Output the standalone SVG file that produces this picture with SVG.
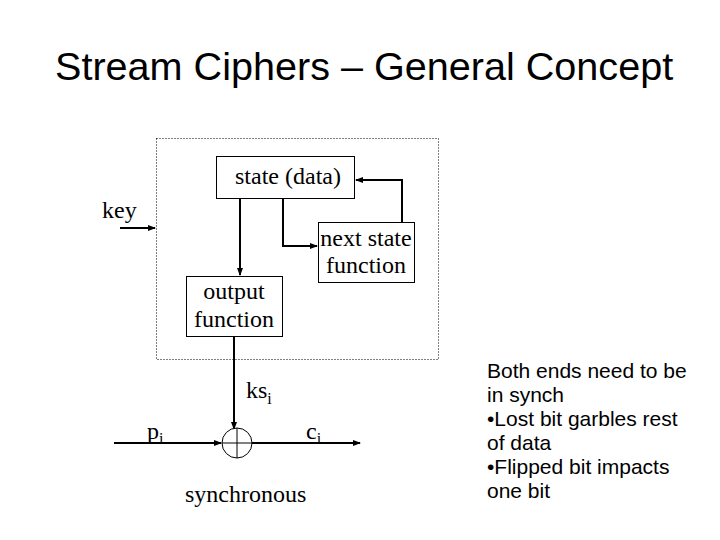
<svg xmlns="http://www.w3.org/2000/svg" width="720" height="540" viewBox="0 0 720 540">
<defs>
<marker id="ah" markerWidth="8" markerHeight="6" refX="7" refY="3" orient="auto" markerUnits="userSpaceOnUse">
<path d="M0,0 L8,3 L0,6 z" fill="#000"/>
</marker>
<style>
.serif{font-family:"Liberation Serif","Times New Roman",serif;fill:#000}
.sans{font-family:"Liberation Sans",Arial,sans-serif;fill:#000}
.box{fill:#fff;stroke:#000;stroke-width:1}
.ln{fill:none;stroke:#000;stroke-width:2}
</style>
</defs>
<rect width="720" height="540" fill="#fff"/>
<text class="sans" x="55" y="80" font-size="39.6">Stream Ciphers – General Concept</text>
<rect id="boundary" x="156.5" y="138.5" width="282" height="221" fill="none" stroke="#000" stroke-width="1" stroke-dasharray="1,2"/>
<g id="connectors">
<path class="ln" d="M120,228 L155,228" marker-end="url(#ah)"/>
<path class="ln" d="M240,198 L240,275" marker-end="url(#ah)"/>
<path class="ln" d="M283,198 L283,246 L317,246" marker-end="url(#ah)"/>
<path class="ln" d="M402,222 L402,180 L356,180" marker-end="url(#ah)"/>
<path class="ln" d="M234,337 L234,429" marker-end="url(#ah)"/>
<path class="ln" d="M114,443 L221,443" marker-end="url(#ah)"/>
<path class="ln" d="M252,443 L360,443" marker-end="url(#ah)"/>
</g>
<g id="state">
<rect class="box" x="216.5" y="156.5" width="138" height="42"/>
<text class="serif" x="288" y="184" font-size="24" text-anchor="middle">state (data)</text>
</g>
<g id="next-state">
<rect class="box" x="318.5" y="222.5" width="96" height="60"/>
<text class="serif" x="366" y="246" font-size="24" text-anchor="middle">next state</text>
<text class="serif" x="366" y="273" font-size="24" text-anchor="middle">function</text>
</g>
<g id="output">
<rect class="box" x="186.5" y="276.5" width="96" height="60"/>
<text class="serif" x="234" y="299" font-size="24" text-anchor="middle">output</text>
<text class="serif" x="234" y="327" font-size="24" text-anchor="middle">function</text>
</g>
<g id="xor">
<circle cx="237" cy="443" r="15" fill="#fff" stroke="#000" stroke-width="1"/>
<path d="M222,443 H252 M237,428 V458" stroke="#000" stroke-width="1"/>
</g>
<text class="serif" x="102" y="218" font-size="24">key</text>
<text class="serif" x="246" y="398" font-size="24">ks<tspan font-size="16" dy="6">i</tspan></text>
<text class="serif" x="147" y="439" font-size="24">p<tspan font-size="16" dy="5">i</tspan></text>
<text class="serif" x="306" y="439" font-size="24">c<tspan font-size="16" dy="5">i</tspan></text>
<text class="serif" x="185" y="502" font-size="24">synchronous</text>
<g class="sans" font-size="21">
<text x="487" y="378">Both ends need to be</text>
<text x="487" y="402">in synch</text>
<text x="487" y="426">•Lost bit garbles rest</text>
<text x="487" y="450">of data</text>
<text x="487" y="474">•Flipped bit impacts</text>
<text x="487" y="498">one bit</text>
</g>
</svg>
